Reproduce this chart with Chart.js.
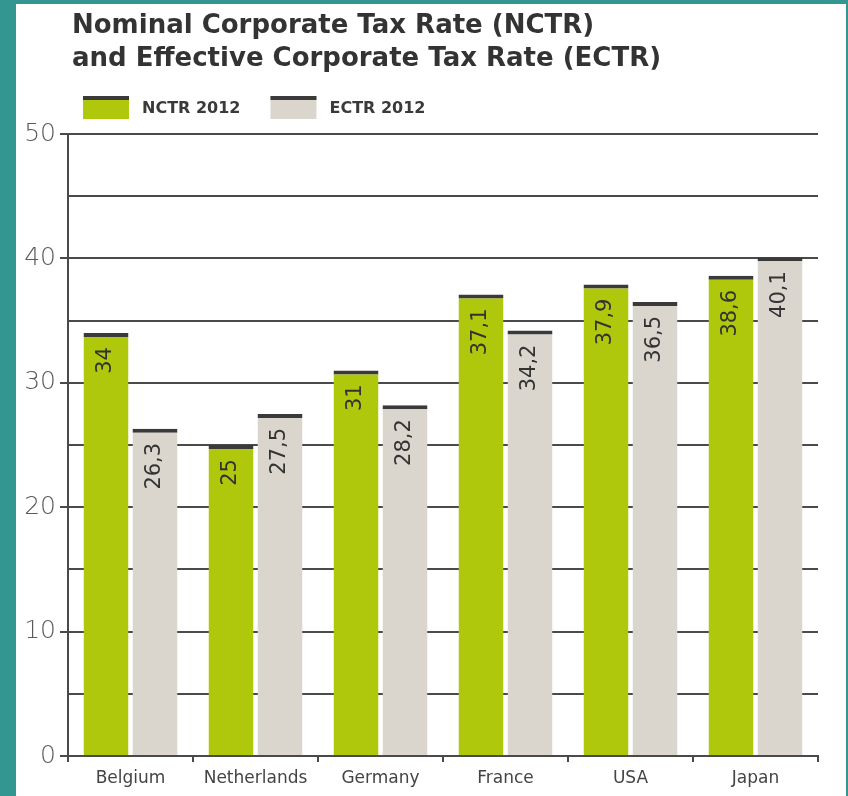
<!DOCTYPE html>
<html><head><meta charset="utf-8">
<script src="https://cdn.jsdelivr.net/npm/chart.js@4.4.1/dist/chart.umd.min.js"></script>
<style>
html,body{margin:0;padding:0;background:#349690;width:848px;height:796px;overflow:hidden}
#wrap{position:absolute;left:16px;top:4px;width:830px;height:792px;background:#fff}
canvas{display:block}
</style></head><body>
<div id="wrap"><canvas id="c" width="830" height="792" style="width:830px;height:792px"></canvas></div>
<script>
const categories = ['Belgium', 'Netherlands', 'Germany', 'France', 'USA', 'Japan'];
const nctr2012 = [34, 25, 31, 37.1, 37.9, 38.6];
const ectr2012 = [26.3, 27.5, 28.2, 34.2, 36.5, 40.1];
const seriesNames = ['NCTR 2012', 'ECTR 2012'];
const titleLines = ['Nominal Corporate Tax Rate (NCTR)', 'and Effective Corporate Tax Rate (ECTR)'];
const yMin = 0, yMax = 50, yStep = 5, yLabelStep = 10;

const GREEN = '#afc80c', GREY = '#dbd6cd', CAP = '#3a3a3a', LINE = '#4a4a4a';
const FONT = '"DejaVu Sans", Verdana, sans-serif';

const fmt = v => String(v).replace('.', ',');

const shiftTitle = {
  id: 'shiftTitle',
  afterLayout(chart) {
    const t = chart.titleBlock;
    if (t) { t.left += 4; t.right += 4; }
  }
};

const valueLabels = {
  id: 'valueLabels',
  afterDatasetsDraw(chart) {
    const ctx = chart.ctx;
    ctx.save();
    ctx.font = '21px ' + FONT;
    ctx.fillStyle = '#333';
    ctx.textAlign = 'right';
    ctx.textBaseline = 'middle';
    chart.data.datasets.forEach((ds, di) => {
      chart.getDatasetMeta(di).data.forEach((bar, i) => {
        ctx.save();
        ctx.translate(bar.x, bar.y + 14);
        ctx.rotate(-Math.PI / 2);
        ctx.fillText(fmt(ds.data[i]), 0, 0);
        ctx.restore();
      });
    });
    ctx.restore();
  }
};

const boxLegend = {
  id: 'boxLegend',
  afterDraw(chart) {
    const ctx = chart.ctx;
    ctx.save();
    ctx.font = 'bold 16px ' + FONT;
    ctx.textBaseline = 'middle';
    let x = 67;
    const y = 92, w = 46, h = 23;
    chart.data.datasets.forEach(ds => {
      ctx.fillStyle = ds.backgroundColor;
      ctx.fillRect(x, y, w, h);
      ctx.fillStyle = CAP;
      ctx.fillRect(x, y, w, 4);
      ctx.fillStyle = '#3a3a3a';
      ctx.textAlign = 'left';
      const tx = x + w + 13;
      ctx.fillText(ds.label, tx, y + h / 2 + 1);
      x = tx + ctx.measureText(ds.label).width + 30;
    });
    ctx.restore();
  }
};

new Chart(document.getElementById('c'), {
  type: 'bar',
  data: {
    labels: categories,
    datasets: [
      { label: seriesNames[0], data: nctr2012, backgroundColor: GREEN, borderColor: CAP,
        borderWidth: { top: 4, left: 0, right: 0, bottom: 0 }, borderSkipped: false },
      { label: seriesNames[1], data: ectr2012, backgroundColor: GREY, borderColor: CAP,
        borderWidth: { top: 4, left: 0, right: 0, bottom: 0 }, borderSkipped: false }
    ]
  },
  options: {
    responsive: false,
    animation: false,
    devicePixelRatio: 1,
    layout: { padding: { left: 6, right: 28, top: 0, bottom: 0 } },
    datasets: { bar: { categoryPercentage: 0.784, barPercentage: 0.918 } },
    plugins: {
      legend: { display: false },
      tooltip: { enabled: false },
      title: {
        display: true,
        text: titleLines,
        align: 'start',
        fullSize: false,
        color: '#333',
        font: { family: FONT, size: 26, weight: 'bold', lineHeight: 1.27 },
        padding: { top: 6, bottom: 58 }
      }
    },
    scales: {
      x: {
        afterFit(s) { s.height = 40; },
        grid: { display: true, drawOnChartArea: false, drawTicks: true, tickLength: 6, color: LINE, lineWidth: 2, offset: true },
        border: { display: true, color: LINE, width: 2 },
        ticks: { color: '#444', font: { family: FONT, size: 17 }, padding: 6 }
      },
      y: {
        min: yMin, max: yMax,
        afterFit(s) { s.width = 46; },
        grid: {
          color: LINE, lineWidth: 2, drawTicks: true, tickLength: 8,
          tickColor: c => (c.tick && c.tick.value % yLabelStep === 0) ? LINE : 'rgba(0,0,0,0)'
        },
        border: { display: true, color: LINE, width: 2 },
        ticks: {
          stepSize: yStep, padding: 4, color: '#5a5a5a',
          font: { family: FONT, size: 25, weight: 300 },
          callback: v => (v % yLabelStep === 0 ? String(v) : '')
        }
      }
    }
  },
  plugins: [shiftTitle, valueLabels, boxLegend]
});
</script>
</body></html>
